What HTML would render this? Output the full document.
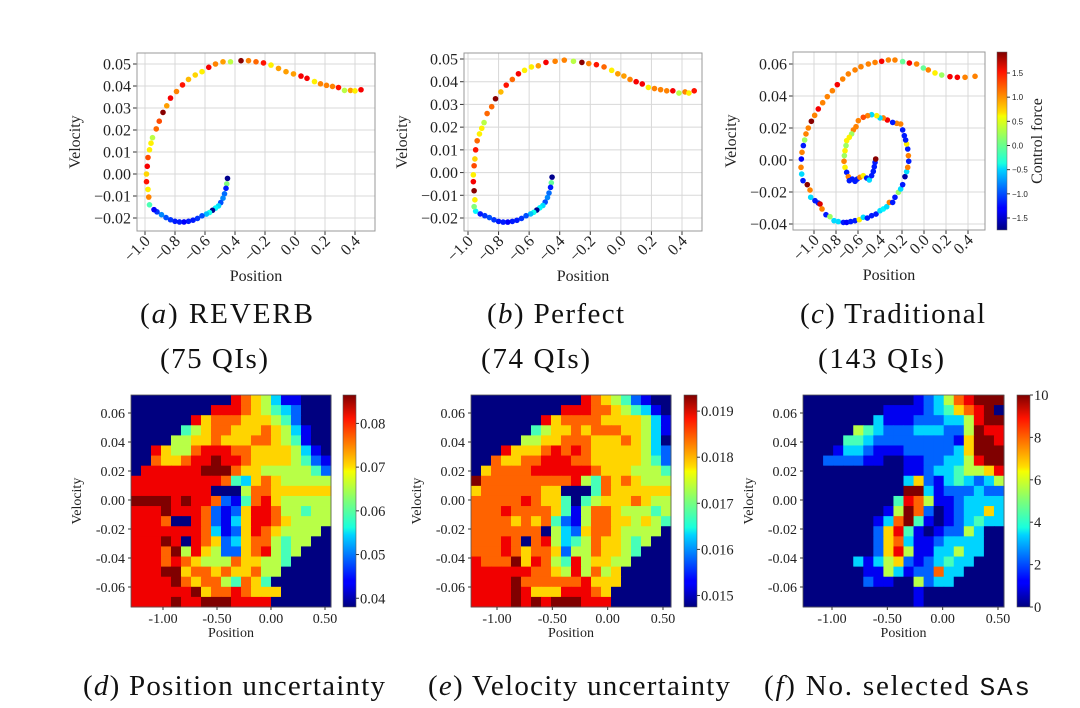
<!DOCTYPE html>
<html><head><meta charset="utf-8"><style>
html,body{margin:0;padding:0;background:#fff;}
svg{display:block;font-family:"Liberation Serif",serif;}
</style></head><body>
<svg id="fig" width="1080" height="708" viewBox="0 0 1080 708" xmlns="http://www.w3.org/2000/svg">
<defs>
<linearGradient id="jetg" x1="0" y1="1" x2="0" y2="0">
<stop offset="0" stop-color="#00007f"/><stop offset="0.11" stop-color="#0000ff"/><stop offset="0.125" stop-color="#0000ff"/><stop offset="0.34" stop-color="#00d4ff"/><stop offset="0.375" stop-color="#19ffde"/><stop offset="0.5" stop-color="#7cff79"/><stop offset="0.64" stop-color="#f6ff00"/><stop offset="0.66" stop-color="#ffdf00"/><stop offset="0.89" stop-color="#ff1300"/><stop offset="1" stop-color="#7f0000"/>
</linearGradient>
</defs>
<g id="root"></g>
<g font-size="29" fill="#111">
<text x="140" y="323" textLength="173" lengthAdjust="spacing">(<tspan font-style="italic">a</tspan>) REVERB</text>
<text x="160" y="368" textLength="108" lengthAdjust="spacing">(75 QIs)</text>
<text x="487" y="323" textLength="137" lengthAdjust="spacing">(<tspan font-style="italic">b</tspan>) Perfect</text>
<text x="481" y="368" textLength="109" lengthAdjust="spacing">(74 QIs)</text>
<text x="800" y="323" textLength="185" lengthAdjust="spacing">(<tspan font-style="italic">c</tspan>) Traditional</text>
<text x="818" y="368" textLength="126" lengthAdjust="spacing">(143 QIs)</text>
<text x="83" y="695" textLength="302" lengthAdjust="spacing">(<tspan font-style="italic">d</tspan>) Position uncertainty</text>
<text x="428" y="695" textLength="302" lengthAdjust="spacing">(<tspan font-style="italic">e</tspan>) Velocity uncertainty</text>
<text x="764" y="695" textLength="266" lengthAdjust="spacing">(<tspan font-style="italic">f</tspan>) No. selected <tspan font-family="Liberation Mono, monospace" font-size="26">SAs</tspan></text>
</g>
</svg>
<script>
// ---- Scatter data (a) REVERB ----
const aX=[-0.45,-0.455,-0.46,-0.47,-0.48,-0.495,-0.51,-0.53,-0.55,-0.57,-0.59,-0.62,-0.65,-0.68,-0.71,-0.74,-0.77,-0.8,-0.83,-0.86,-0.89,-0.92,-0.94,-0.97,-0.975,-0.98,-0.99,-0.99,-0.985,-0.98,-0.97,-0.96,-0.95,-0.925,-0.905,-0.88,-0.855,-0.83,-0.79,-0.75,-0.71,-0.665,-0.62,-0.575,-0.53,-0.48,-0.43,-0.36,-0.31,-0.26,-0.21,-0.16,-0.11,-0.06,-0.01,0.04,0.08,0.13,0.17,0.21,0.25,0.29,0.33,0.37,0.4,0.44];
const aY=[-0.002,-0.0045,-0.0065,-0.009,-0.011,-0.013,-0.0145,-0.0155,-0.0165,-0.0175,-0.0182,-0.019,-0.0202,-0.021,-0.0215,-0.0218,-0.0218,-0.0215,-0.0208,-0.0198,-0.0185,-0.0172,-0.0162,-0.014,-0.0105,-0.007,-0.0035,0.0,0.0035,0.0075,0.011,0.014,0.0165,0.0205,0.024,0.028,0.031,0.0345,0.0375,0.0405,0.043,0.045,0.0465,0.0485,0.05,0.051,0.051,0.0515,0.0515,0.051,0.0505,0.0495,0.048,0.0465,0.0455,0.0445,0.0435,0.042,0.041,0.0403,0.0398,0.0393,0.038,0.038,0.0378,0.0383];
const aC=[-1.7,0.1,-1.2,-0.9,-0.8,-1.0,-0.5,-0.4,-1.7,-0.3,-0.6,-1.0,-1.1,-1.2,-1.2,-1.3,-1.2,-1.2,-1.1,-1.0,-0.8,-1.1,-1.3,-0.1,1.0,0.6,1.4,0.7,1.5,1.2,0.6,0.6,0.3,1.1,1.2,1.9,0.9,1.5,1.0,1.4,0.8,0.7,0.6,1.5,1.0,0.9,0.3,1.9,1.0,1.1,1.4,0.6,0.9,0.9,0.9,1.5,1.5,0.6,1.0,1.0,1.0,1.4,0.3,0.9,0.6,1.5];
// ---- Scatter data (b) Perfect ----
const bX=[-0.45,-0.455,-0.46,-0.47,-0.48,-0.495,-0.51,-0.53,-0.55,-0.57,-0.59,-0.62,-0.65,-0.68,-0.71,-0.74,-0.77,-0.8,-0.83,-0.86,-0.89,-0.92,-0.95,-0.96,-0.955,-0.96,-0.965,-0.965,-0.96,-0.955,-0.95,-0.94,-0.925,-0.91,-0.895,-0.875,-0.845,-0.82,-0.785,-0.75,-0.71,-0.67,-0.63,-0.585,-0.54,-0.49,-0.43,-0.37,-0.31,-0.255,-0.21,-0.16,-0.11,-0.06,-0.02,0.02,0.06,0.10,0.14,0.18,0.22,0.26,0.30,0.34,0.38,0.42,0.445,0.48];
const bY=[-0.002,-0.0045,-0.0065,-0.009,-0.011,-0.013,-0.0145,-0.0155,-0.0165,-0.0175,-0.0182,-0.019,-0.0202,-0.021,-0.0215,-0.0218,-0.0218,-0.0215,-0.0208,-0.0198,-0.019,-0.0182,-0.017,-0.015,-0.012,-0.008,-0.004,-0.001,0.003,0.006,0.010,0.014,0.017,0.0195,0.022,0.026,0.029,0.0325,0.0355,0.0385,0.041,0.0435,0.045,0.0465,0.047,0.0485,0.049,0.0495,0.049,0.0485,0.048,0.0475,0.0465,0.045,0.0435,0.0425,0.041,0.040,0.039,0.0375,0.037,0.0365,0.036,0.036,0.035,0.0355,0.035,0.036];
const bC=[-1.7,0.0,-1.2,-0.9,-0.8,-1.0,-0.5,-0.4,-1.7,-0.3,-0.6,-1.0,-1.1,-1.2,-1.2,-1.3,-1.2,-1.2,-1.1,-1.0,-1.1,-1.2,-0.4,0.1,0.6,1.9,1.5,0.6,1.2,0.7,1.4,1.1,0.6,0.6,0.3,1.1,1.1,1.9,0.8,1.4,1.1,1.5,0.6,0.6,0.9,1.5,1.0,1.0,0.3,1.9,1.0,1.4,1.1,0.6,0.9,0.9,1.0,1.5,1.5,0.6,1.0,1.0,1.0,1.5,0.3,1.0,0.6,1.4];
// ---- Scatter data (c) Traditional ----
const cX=[0.464,0.373,0.303,0.236,0.161,0.100,0.039,-0.006,-0.067,-0.133,-0.194,-0.264,-0.324,-0.385,-0.445,-0.506,-0.573,-0.627,-0.688,-0.739,-0.788,-0.833,-0.879,-0.921,-0.961,-0.994,-1.024,-1.052,-1.073,-1.085,-1.097,-1.109,-1.115,-1.118,-1.112,-1.1,-1.061,-1.036,-1.030,-0.991,-0.961,-0.945,-0.927,-0.891,-0.855,-0.818,-0.779,-0.733,-0.703,-0.667,-0.627,-0.588,-0.552,-0.515,-0.476,-0.436,-0.4,-0.370,-0.339,-0.315,-0.285,-0.264,-0.233,-0.212,-0.194,-0.173,-0.158,-0.148,-0.139,-0.142,-0.148,-0.158,-0.167,-0.179,-0.194,-0.212,-0.248,-0.285,-0.333,-0.370,-0.4,-0.430,-0.476,-0.512,-0.552,-0.597,-0.618,-0.642,-0.658,-0.679,-0.703,-0.709,-0.718,-0.724,-0.727,-0.718,-0.703,-0.688,-0.679,-0.652,-0.627,-0.606,-0.582,-0.552,-0.521,-0.497,-0.476,-0.461,-0.452,-0.445,-0.439];
const cY=[0.0523,0.0517,0.0517,0.0521,0.0531,0.0544,0.0563,0.0575,0.06,0.0606,0.0615,0.0625,0.0625,0.0617,0.061,0.06,0.0583,0.0563,0.0538,0.0506,0.0471,0.0433,0.0396,0.0358,0.0319,0.0279,0.0242,0.02,0.0163,0.0125,0.009,0.0048,0.0006,-0.0046,-0.0088,-0.0129,-0.0154,-0.0188,-0.0233,-0.0254,-0.0269,-0.0275,-0.0306,-0.0342,-0.0354,-0.0379,-0.0385,-0.039,-0.039,-0.0385,-0.0379,-0.0373,-0.0358,-0.0363,-0.0348,-0.0338,-0.0317,-0.0306,-0.0292,-0.0265,-0.0265,-0.0233,-0.0202,-0.0181,-0.0154,-0.0104,-0.0073,-0.0046,-0.0008,0.0027,0.0069,0.01,0.0125,0.0152,0.0188,0.0225,0.0229,0.0235,0.025,0.0263,0.0263,0.0277,0.0283,0.0277,0.0267,0.0246,0.0208,0.0188,0.0163,0.0142,0.0121,0.009,0.0058,0.0027,-0.0008,-0.0046,-0.0077,-0.0104,-0.0129,-0.0119,-0.0133,-0.0119,-0.0108,-0.0098,-0.0113,-0.0125,-0.0098,-0.0071,-0.0042,-0.0015,0.0006];
const cC=[1.0,1.0,1.5,1.5,0.2,0.6,1.0,0.0,1.0,1.5,0.0,1.0,1.0,1.5,1.0,1.0,1.0,1.0,1.0,1.0,1.5,1.0,1.0,1.0,1.5,1.0,1.9,1.0,1.0,0.2,-1.2,1.0,-1.3,1.0,-0.5,-1.2,1.9,1.0,-0.5,-1.2,-1.2,1.6,1.0,-1.2,0.2,-0.5,-0.5,-1.2,-1.3,-1.2,-1.2,0.6,-0.5,-1.2,-1.2,-1.2,-0.5,-0.4,-0.5,1.0,-1.2,-1.2,0.2,-0.5,-1.2,-1.6,-0.5,1.0,-1.2,1.0,-1.2,0.6,-1.2,-1.2,-1.2,1.0,1.0,-1.2,1.5,1.0,-0.5,0.6,-0.5,1.0,1.2,1.0,1.0,1.0,0.2,0.6,0.6,0.2,0.6,0.2,1.0,0.6,-1.2,1.0,-1.2,-1.2,-1.2,-1.2,1.0,0.6,-1.2,-0.5,-1.2,-1.2,-1.2,-1.2,1.9];
const aXTicks=[-1.0,-0.8,-0.6,-0.4,-0.2,0.0,0.2,0.4];
const abYTicks=[-0.02,-0.01,0.00,0.01,0.02,0.03,0.04,0.05];
const cYTicks=[-0.04,-0.02,0.00,0.02,0.04,0.06];
const cbTicks=[-1.5,-1.0,-0.5,0.0,0.5,1.0,1.5];
// ---- Heatmap data: rows top (high velocity) to bottom, digit level 0..9 ----
const dRows=["00000000008765311000","00000000888765432000","00000086777666542000","00000456776667653100","00005566766677654100","00865578887766665310","00766788988766665421","08888889997665555542","88888888874367655555","88888888000577666666","99998988721478655555","88898887212688755455","88870087213688765555","88888887312687655550","88898087623677545500","88879586522678545000","88878765557665540000","88899677676675500000","88889767754764000000","88888896778766600000","88889889998888000000"];
const eRows=["00000000000876542100","00000000088877654310","00000008677776666531","00000045667677766531","00000556677766676530","00086667878766666532","00766778887766666542","06777788888876665554","97777777778547676555","67777776600047666666","77777876640456667655","77787777641577655545","77776767421577665654","77777770532677655550","77787078534576654500","77787677625576654000","87779687548566550000","88888877658575600000","88889777777866600000","88889866688876000000","88889898999888000000"];
const fRows=["00000000000123578999","00000000111123467890","00000003111222335899","00000543222333225988","00004432222222216998","00013321112222236999","00222211001122335899","00000000001123345568","00000000003621343235","00000000009931222322","00000000048751123333","00000000159720123363","00000001379410123433","00000002684101225300","00000002673112333300","00000002685113353300","00000313562123433000","00000011531227330000","00000021100523300000","00000000000100000000","00000000000100000000"];
const dTicks=[0.04,0.05,0.06,0.07,0.08];
const eTicks=[0.015,0.016,0.017,0.018,0.019];
const fTicks=[0,2,4,6,8,10];
const hmXTicks=[-1.00,-0.50,0.00,0.50];
const hmYTicks=[-0.06,-0.04,-0.02,0.00,0.02,0.04,0.06];

const NS="http://www.w3.org/2000/svg";
const root=document.getElementById('root');
function mk(tag,attrs,parent,text){const e=document.createElementNS(NS,tag);for(const k in attrs)e.setAttribute(k,attrs[k]);if(text!==undefined)e.textContent=text;(parent||root).appendChild(e);return e;}
function jet(t){t=Math.max(0,Math.min(1,t));const c=v=>Math.round(255*Math.max(0,Math.min(1,v)));return `rgb(${c(1.5-Math.abs(4*t-3))},${c(1.5-Math.abs(4*t-2))},${c(1.5-Math.abs(4*t-1))})`;}
function lin(d0,d1,p0,p1){return v=>p0+(v-d0)*(p1-p0)/(d1-d0);}
function fmt(v,n){const s=Math.abs(v).toFixed(n);return (v<-1e-9?'\u2212':'')+s;}

function scatter(o){
  const g=mk('g',{},root);
  
  
  const X=lin(o.xt0,o.xt1,o.px0,o.px1), Y=lin(o.yt0,o.yt1,o.py0,o.py1);
  mk('rect',{x:o.L,y:o.T,width:o.R-o.L,height:o.B-o.T,fill:'#fff'},g);
  o.xticks.forEach(v=>{const x=X(v);
    const l=mk('line',{x1:x,x2:x,y1:o.T,y2:o.B,stroke:'#d8d8d8','stroke-width':1},g);
    
    mk('line',{x1:x,x2:x,y1:o.B,y2:o.B+4,stroke:'#333'},g);
    const t=mk('text',{x:x+6,y:o.B+11,'text-anchor':'end','font-size':16,transform:`rotate(-45 ${x+6} ${o.B+11})`,fill:'#222'},g,fmt(v,1));
    });
  o.yticks.forEach(v=>{const y=Y(v);
    const l=mk('line',{x1:o.L,x2:o.R,y1:y,y2:y,stroke:'#d8d8d8','stroke-width':1},g);
    
    mk('line',{x1:o.L-4,x2:o.L,y1:y,y2:y,stroke:'#333'},g);
    const t=mk('text',{x:o.L-6,y:y+5.5,'text-anchor':'end','font-size':16,fill:'#222'},g,fmt(v,2));
    });
  mk('rect',{x:o.L,y:o.T,width:o.R-o.L,height:o.B-o.T,fill:'none',stroke:'#999','stroke-width':1},g);
  o.xs.forEach((xv,i)=>{const p=mk('circle',{cx:X(xv),cy:Y(o.ys[i]),r:2.8,fill:jet((o.cs[i]+1.75)/3.68)},g);
    });
  const xl=mk('text',{x:(o.L+o.R)/2,y:o.B+50,'text-anchor':'middle','font-size':16,fill:'#222'},g,'Position');
  
  const yx=o.L-57, yy=(o.T+o.B)/2;
  const yl=mk('text',{x:yx,y:yy,'text-anchor':'middle','font-size':16,fill:'#222',transform:`rotate(-90 ${yx} ${yy})`},g,'Velocity');
  
}
scatter({name:'plot-a-reverb',L:137,R:375,T:53,B:231,xt0:-1.0,xt1:0.4,px0:145,px1:355,yt0:-0.02,yt1:0.05,py0:218,py1:64,xticks:aXTicks,yticks:abYTicks,xs:aX,ys:aY,cs:aC});
scatter({name:'plot-b-perfect',L:464,R:702,T:53,B:231,xt0:-1.0,xt1:0.4,px0:468,px1:682,yt0:-0.02,yt1:0.05,py0:218,py1:59,xticks:aXTicks,yticks:abYTicks,xs:bX,ys:bY,cs:bC});
scatter({name:'plot-c-traditional',L:793,R:985,T:52,B:230,xt0:-1.0,xt1:0.4,px0:814,px1:968,yt0:-0.04,yt1:0.06,py0:224,py1:64,xticks:aXTicks,yticks:cYTicks,xs:cX,ys:cY,cs:cC});

// colorbar for (c)
(function(){
  const g=mk('g',{},root);
  
  mk('rect',{x:997,y:52,width:10,height:178,fill:'url(#jetg)',stroke:'#666','stroke-width':0.5},g);
  const Y=lin(-1.5,1.5,218,73);
  cbTicks.forEach(v=>{const y=Y(v);mk('line',{x1:1007,x2:1010,y1:y,y2:y,stroke:'#333'},g);
    const t=mk('text',{x:1012,y:y+3,'font-size':8,fill:'#222','font-family':'Liberation Sans, sans-serif'},g,fmt(v,1));
    });
  const t=mk('text',{x:1042,y:141,'text-anchor':'middle','font-size':16,fill:'#222',transform:'rotate(-90 1042 141)'},g,'Control force');
  
})();

function heatmap(o){
  const g=mk('g',{},root);
  
  const nr=o.rows.length,nc=o.rows[0].length,cw=(o.R-o.L)/nc,ch=(o.B-o.T)/nr;
  o.rows.forEach((row,r)=>{for(let c=0;c<nc;c++){const lv=+row[c];const val=o.lo+lv/9*(o.hi-o.lo);
    const cell=mk('rect',{x:o.L+c*cw,y:o.T+r*ch,width:cw+0.5,height:ch+0.5,fill:jet((val-o.lo)/(o.hi-o.lo))},g);
    }});
  mk('rect',{x:o.L,y:o.T,width:o.R-o.L,height:o.B-o.T,fill:'none',stroke:'#555','stroke-width':0.8},g);
  const X=lin(-1.0,0.5,o.x0,o.x1),Y=lin(-0.06,0.06,587,413);
  hmXTicks.forEach(v=>{const x=X(v);mk('line',{x1:x,x2:x,y1:o.B,y2:o.B+3,stroke:'#333'},g);
    const t=mk('text',{x:x,y:o.B+16,'text-anchor':'middle','font-size':14,fill:'#222'},g,v.toFixed(2));
    });
  hmYTicks.forEach(v=>{const y=Y(v);mk('line',{x1:o.L-3,x2:o.L,y1:y,y2:y,stroke:'#333'},g);
    const t=mk('text',{x:o.L-6,y:y+5,'text-anchor':'end','font-size':14,fill:'#222'},g,v.toFixed(2));
    });
  const xl=mk('text',{x:(o.L+o.R)/2,y:o.B+30,'text-anchor':'middle','font-size':14,fill:'#222'},g,'Position');
  
  const yx=o.L-50,yy=(o.T+o.B)/2;
  const yl=mk('text',{x:yx,y:yy,'text-anchor':'middle','font-size':14,fill:'#222',transform:`rotate(-90 ${yx} ${yy})`},g,'Velocity');
  
  const cb=mk('g',{},g);
  
  mk('rect',{x:o.cbx,y:o.T,width:13,height:o.B-o.T,fill:'url(#jetg)',stroke:'#555','stroke-width':0.6},cb);
  const CY=lin(o.lo,o.hi,o.B,o.T);
  o.ticks.forEach(v=>{const y=CY(v);mk('line',{x1:o.cbx+13,x2:o.cbx+16,y1:y,y2:y,stroke:'#333'},cb);
    const t=mk('text',{x:o.cbx+17,y:y+5,'font-size':14.5,fill:'#222'},cb,o.fmt(v));
    });
}
heatmap({name:'heatmap-d-position-uncertainty',L:131,R:331,T:395,B:607,x0:163,x1:325,rows:dRows,lo:0.038,hi:0.0865,ticks:dTicks,cbx:343,fmt:v=>v.toFixed(2)});
heatmap({name:'heatmap-e-velocity-uncertainty',L:471,R:671,T:395,B:607,x0:497,x1:663,rows:eRows,lo:0.01475,hi:0.01935,ticks:eTicks,cbx:684,fmt:v=>v.toFixed(3)});
heatmap({name:'heatmap-f-selected-sas',L:803,R:1004,T:395,B:607,x0:832,x1:998,rows:fRows,lo:0,hi:10,ticks:fTicks,cbx:1017,fmt:v=>String(v)});
</script>
</body></html>
